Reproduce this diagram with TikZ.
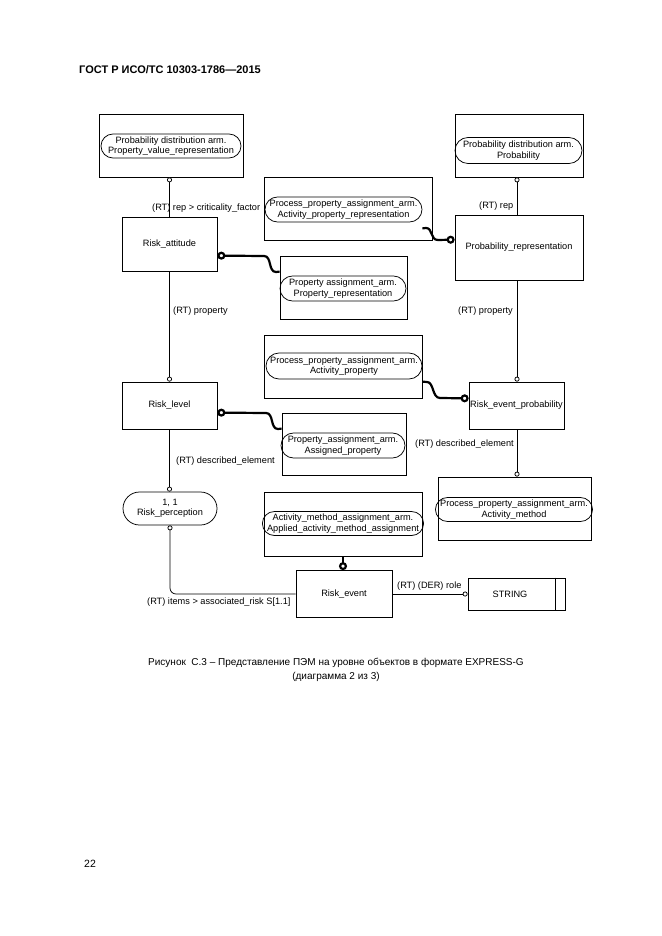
\documentclass[tikz,border=0pt]{standalone}
\usepackage{fontspec}
\setmainfont{Liberation Sans}
\usetikzlibrary{arrows.meta,calc,shapes.misc}
\begin{document}
\begin{tikzpicture}[x=1pt,y=-1pt,
  dfont/.style={font=\fontsize{9.2}{10.4}\selectfont},
  ebox/.style={draw, line width=0.75pt, inner sep=0pt, dfont, align=center},
  pill/.style={draw, rounded rectangle, line width=0.75pt, inner sep=0pt, dfont, align=center},
  rel/.style={line width=0.75pt, -{Circle[open,length=5pt,width=5pt,fill=white]}},
  agg/.style={line width=2.2pt, -{Circle[open,length=8pt,width=8pt,fill=white]}},
  lbl/.style={dfont, anchor=west, inner sep=0pt}]
\useasboundingbox (0,0) rectangle (661,936);

% header, caption, page number
\node[anchor=west, inner sep=0pt, font=\fontsize{11}{13}\selectfont\bfseries] (hdr) at (79,70) {ГОСТ Р ИСО/ТС 10303-1786—2015};
\node[align=center, inner sep=0pt, font=\fontsize{10}{14}\selectfont] (cap) at (336,670) {Рисунок\ \ С.3 – Представление ПЭМ на уровне объектов в формате EXPRESS-G\\(диаграмма 2 из 3)};
\node[anchor=west, inner sep=0pt, font=\fontsize{10.5}{12}\selectfont] (pg) at (84,864) {22};

% boxes
\node[ebox, minimum width=144, minimum height=63] (pdaB) at (171,145.5) {};
\node[pill, minimum width=140, minimum height=24] (pdaP) at (171,146) {Probability distribution arm.\\Property\_value\_representation};

\node[ebox, minimum width=128, minimum height=63] (pdpB) at (519,145.5) {};
\node[pill, minimum width=127, minimum height=26] (pdpP) at (518.5,150.5) {Probability distribution arm.\\Probability};

\node[ebox, minimum width=168, minimum height=63] (ppaB1) at (348,208.5) {};
\node[pill, minimum width=157, minimum height=25] (ppaP1) at (343.5,209.5) {Process\_property\_assignment\_arm.\\Activity\_property\_representation};

\node[ebox, minimum width=95, minimum height=54] (ra) at (169.5,244) {Risk\_attitude};
\node[ebox, minimum width=128, minimum height=65] (pr) at (519,247.5) {Probability\_representation};

\node[ebox, minimum width=127, minimum height=63] (praB) at (343.5,287.5) {};
\node[pill, minimum width=126, minimum height=25] (praP) at (343,288.5) {Property assignment\_arm.\\Property\_representation};

\node[ebox, minimum width=158, minimum height=63] (ppaB2) at (343,366.5) {};
\node[pill, minimum width=156, minimum height=26] (ppaP2) at (344,366) {Process\_property\_assignment\_arm.\\Activity\_property};

\node[ebox, minimum width=95, minimum height=47] (rl) at (169.5,405.5) {Risk\_level};
\node[ebox, minimum width=95, minimum height=47] (rep) at (516.5,405.5) {Risk\_event\_probability};

\node[ebox, minimum width=124, minimum height=62] (paB) at (344,444) {};
\node[pill, minimum width=124, minimum height=25] (paP) at (343,445.5) {Property\_assignment\_arm.\\Assigned\_property};

\node[ebox, minimum width=153, minimum height=63] (pamB) at (514.5,508.5) {};
\node[pill, minimum width=150, minimum height=24] (pamP) at (514,509.5) {Process\_property\_assignment\_arm.\\Activity\_method};

\node[pill, minimum width=94, minimum height=33] (rp) at (170,508.5) {1, 1\\Risk\_perception};

\node[ebox, minimum width=158, minimum height=64] (amaB) at (343,524) {};
\node[pill, minimum width=156, minimum height=24] (amaP) at (343,523.5) {Activity\_method\_assignment\_arm.\\Applied\_activity\_method\_assignment};

\node[ebox, minimum width=96, minimum height=47] (re) at (344,594) {Risk\_event};
\node[ebox, minimum width=97, minimum height=32] (str) at (516.5,594) {};
\node[dfont, inner sep=0pt] (strT) at (510,594) {STRING};
\draw[line width=0.75pt] ($(str.north east)+(-10,0)$) -- ($(str.south east)+(-10,0)$);

% labels
\node[lbl] (l1) at (152,208) {(RT) rep > criticality\_factor};
\node[lbl] (l2) at (479,206) {(RT) rep};
\node[lbl] (l3) at (173,311) {(RT) property};
\node[lbl] (l4) at (458,311) {(RT) property};
\node[lbl] (l5) at (176,461) {(RT) described\_element};
\node[lbl] (l6) at (415,444) {(RT) described\_element};
\node[lbl] (l7) at (147,602) {(RT) items > associated\_risk S[1.1]};
\node[lbl] (l8) at (397,586) {(RT) (DER) role};

% thin relationship lines
\draw[rel] (ra.north) -- (ra.north |- pdaB.south);
\draw[rel] (ra.south) -- (rl.north);
\draw[rel] (rl.south) -- (rl.south |- rp.north);
\draw[rel, rounded corners=6pt] (re.west) -- (rp.south |- re.west) -- (rp.south);
\draw[rel] ($(pr.north)+(-2,0)$) -- ($(pdpB.south)+(-2,0)$);
\draw[rel] ($(pr.south)+(-2,0)$) -- ($(rep.north)+(0.5,0)$);
\draw[rel] ($(rep.south)+(0.5,0)$) -- ($(pamB.north)+(2.5,0)$);
\draw[rel] (re.east) -- (str.west);

% thick connectors
\draw[agg] ($(praB.north west)+(0,16)$) -- (276,272) .. controls (268,272) and (272,256) .. (264,256) -- (ra.east |- praB.north);
\draw[agg] ($(paB.north west)+(0,16)$) -- (278,429) .. controls (270,429) and (274,413) .. (266,413) -- (rl.east |- paB.north);
\draw[agg] ($(ppaB1.south east)+(-10,-12)$) -- (426,228) .. controls (433,228) and (430,240) .. (438,240) -- ($(pr.north west)+(0,25)$);
\draw[agg] ($(ppaB2.north east)+(0,47)$) -- (427,382) .. controls (434,382) and (432,398) .. (440,398) -- (rep.west |- ppaB2.south);
\draw[agg] (amaB.south) -- (amaB.south |- re.north);
\end{tikzpicture}
\end{document}
